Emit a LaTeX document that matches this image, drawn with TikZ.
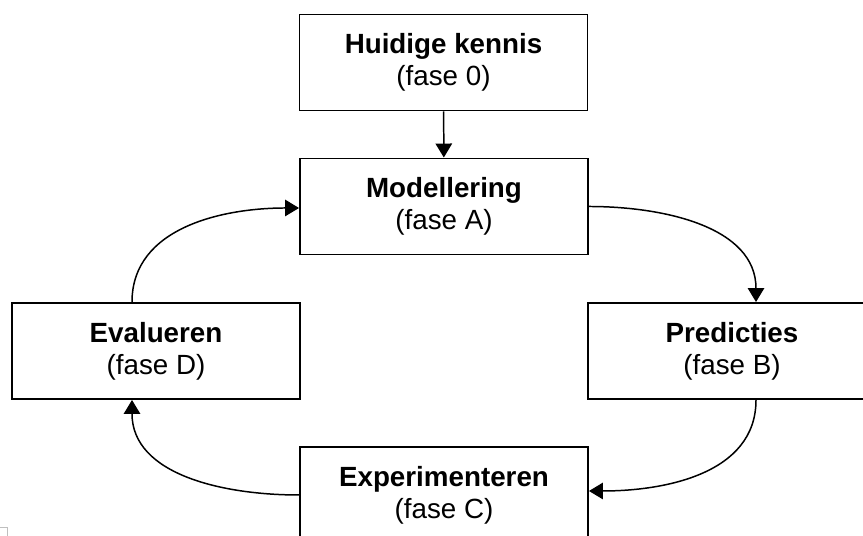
\documentclass[tikz,border=0pt]{standalone}
\usepackage{fontspec}
\setmainfont{Liberation Sans}
\usepackage{tikz}
\usetikzlibrary{arrows.meta,positioning}

\begin{document}
\begin{tikzpicture}[>={Triangle[length=2.8mm,width=3.3mm]},
  phase/.style={draw,line width=1.1pt,minimum width=5.76cm,minimum height=1.92cm,
    align=center,font=\fontsize{15.8}{18.2}\selectfont},
  flow/.style={->,line width=0.85pt}]
  \useasboundingbox (0,0) rectangle (17.26,10.72);
  \clip (0,0) rectangle (17.26,10.72);
  % phases
  \node[phase] (kennis) at (8.87,9.47) {\textbf{Huidige kennis}\\(fase 0)};
  \node[phase] (model)  at (8.88,6.59) {\textbf{Modellering}\\(fase A)};
  \node[phase] (pred)   at (14.64,3.70) {\textbf{Predicties}\\(fase B)};
  \node[phase] (exper)  at (8.88,0.82) {\textbf{Experimenteren}\\(fase C)};
  \node[phase] (eval)   at (3.12,3.70) {\textbf{Evalueren}\\(fase D)};
  % cycle
  \draw[flow] (kennis) -- (model);
  \draw[flow] (model.east) to[out=0,in=90] ([xshift=0.48cm]pred.north);
  \draw[flow] ([xshift=0.48cm]pred.south) to[out=-90,in=0] ([yshift=0.08cm]exper.east);
  \draw[flow] (exper.west) to[out=180,in=-90] ([xshift=-0.48cm]eval.south);
  \draw[flow] ([xshift=-0.48cm]eval.north) to[out=90,in=180] ([yshift=-0.03cm]model.west);
  % corner mark
  \draw[gray!50,line width=0.4pt] (0,0.18) -- (0.14,0.18) -- (0.14,0);
\end{tikzpicture}
\end{document}
